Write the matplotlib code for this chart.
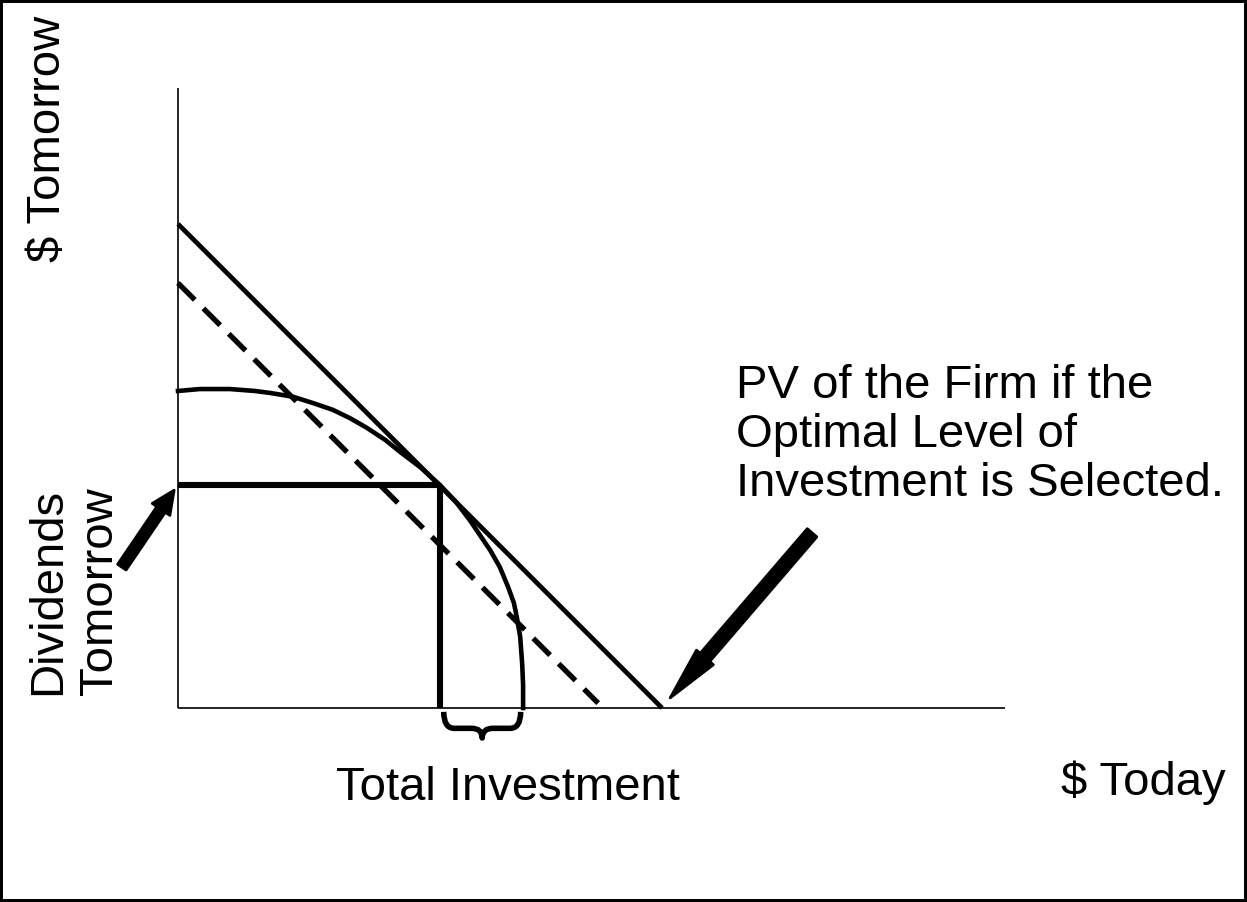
import matplotlib
matplotlib.use("Agg")
import matplotlib.pyplot as plt
from matplotlib.patches import FancyArrow, Rectangle, PathPatch
from matplotlib.path import Path

# ---- data (units: budget-line intercept = 10) ----
x_axis_max = 17.09
y_axis_max = 12.81

solid_line_x = [0.0, 10.0]
solid_line_y = [10.0, 0.0]

dashed_line_x = [0.0, 8.68]
dashed_line_y = [8.78, 0.10]

curve_x = [0.00, 0.45, 1.07, 1.59, 1.90, 2.38, 2.79, 3.20, 3.55, 3.90, 4.28,
           4.59, 5.00, 5.41, 5.74, 6.03, 6.45, 6.65, 6.82, 6.94, 7.00, 7.07,
           7.11, 7.13, 7.13]
curve_y = [6.55, 6.59, 6.59, 6.55, 6.51, 6.43, 6.30, 6.16, 5.99, 5.79, 5.54,
           5.29, 4.98, 4.61, 4.26, 3.88, 3.26, 2.91, 2.50, 2.17, 1.88, 1.47,
           0.93, 0.48, 0.00]

tangent_x = 5.41
tangent_y = 4.61

left_arrow_tail = (-1.16, 2.91)
left_arrow_tip = (-0.08, 4.50)
right_arrow_tail = (13.10, 3.62)
right_arrow_tip = (10.17, 0.21)

label_y_axis = "$ Tomorrow"
label_x_axis = "$ Today"
label_dividends = ["Dividends", "Tomorrow"]
label_investment = "Total Investment"
label_pv = ["PV of the Firm if the", "Optimal Level of", "Investment is Selected."]

# ---- figure ----
W, H = 1247, 902
fig = plt.figure(figsize=(W / 100, H / 100), dpi=100)
ax = fig.add_axes([0, 0, 1, 1])
unit = 48.4
ox, oy = 178, 708
ax.set_xlim(-ox / unit, (W - ox) / unit)
ax.set_ylim((oy - H) / unit, oy / unit)
ax.axis("off")

font = "Liberation Sans"
fs = 34

# axes lines
ax.plot([0, 0], [0, y_axis_max], color="black", lw=1.2, solid_capstyle="butt")
ax.plot([0, x_axis_max], [0, 0], color="black", lw=1.2, solid_capstyle="butt")

# budget lines
ax.plot(solid_line_x, solid_line_y, color="black", lw=3.4, solid_capstyle="butt")
ax.plot(dashed_line_x, dashed_line_y, color="black", lw=3.8,
        dashes=(4.5, 2.3), dash_capstyle="butt")

# production opportunity curve
ax.plot(curve_x, curve_y, color="black", lw=3.3, solid_joinstyle="round")

# dividends / investment lines
ax.plot([0, tangent_x], [tangent_y, tangent_y], color="black", lw=4.4,
        solid_capstyle="butt")
ax.plot([tangent_x, tangent_x], [tangent_y, 0], color="black", lw=4.4,
        solid_capstyle="butt")

# brace under total investment
x0, x1 = tangent_x + 0.08, curve_x[-1] - 0.05
xm = (x0 + x1) / 2
yt, yb, ytip = -0.08, -0.42, -0.62
r = 0.22
verts = [(x0, yt), (x0, yb), (x0 + r, yb),
         (xm - r, yb), (xm, yb), (xm, ytip),
         (xm, yb), (xm + r, yb),
         (x1 - r, yb), (x1, yb), (x1, yt)]
codes = [Path.MOVETO, Path.CURVE3, Path.CURVE3,
         Path.LINETO, Path.CURVE3, Path.CURVE3,
         Path.CURVE3, Path.CURVE3,
         Path.LINETO, Path.CURVE3, Path.CURVE3]
ax.add_patch(PathPatch(Path(verts, codes), fill=False, lw=4.0,
                       edgecolor="black", capstyle="butt", joinstyle="round"))

# arrows
def arrow(tail, tip, width, head_width, head_length):
    a = FancyArrow(tail[0], tail[1], tip[0] - tail[0], tip[1] - tail[1],
                   width=width, head_width=head_width, head_length=head_length,
                   length_includes_head=True, color="black", lw=2,
                   joinstyle="round", capstyle="round")
    ax.add_patch(a)

arrow(left_arrow_tail, left_arrow_tip, 0.21, 0.44, 0.48)
arrow(right_arrow_tail, right_arrow_tip, 0.26, 0.46, 1.10)

# texts
ax.text(-2.69, (oy - 262) / unit, label_y_axis, rotation=90, ha="center",
        va="bottom", fontsize=fs, family=font)
ax.text(-2.69, (oy - 695) / unit, label_dividends[0], rotation=90, ha="center",
        va="bottom", fontsize=fs, family=font)
ax.text(-1.62, (oy - 695) / unit, label_dividends[1], rotation=90, ha="center",
        va="bottom", fontsize=fs, family=font)
ax.text((508 - ox) / unit, (oy - 800) / unit, label_investment, ha="center",
        va="baseline", fontsize=fs, family=font)
ax.text((1226 - ox) / unit, (oy - 795) / unit, label_x_axis, ha="right",
        va="baseline", fontsize=fs, family=font)
for i, line in enumerate(label_pv):
    ax.text((736 - ox) / unit, (oy - 398 - 49 * i) / unit, line, ha="left",
            va="baseline", fontsize=fs, family=font)

# outer frame
fig.patches.append(Rectangle((0, 0), 1, 1, transform=fig.transFigure,
                             fill=False, edgecolor="black", lw=4.3))

fig.savefig("out.png", dpi=100, facecolor="white")
